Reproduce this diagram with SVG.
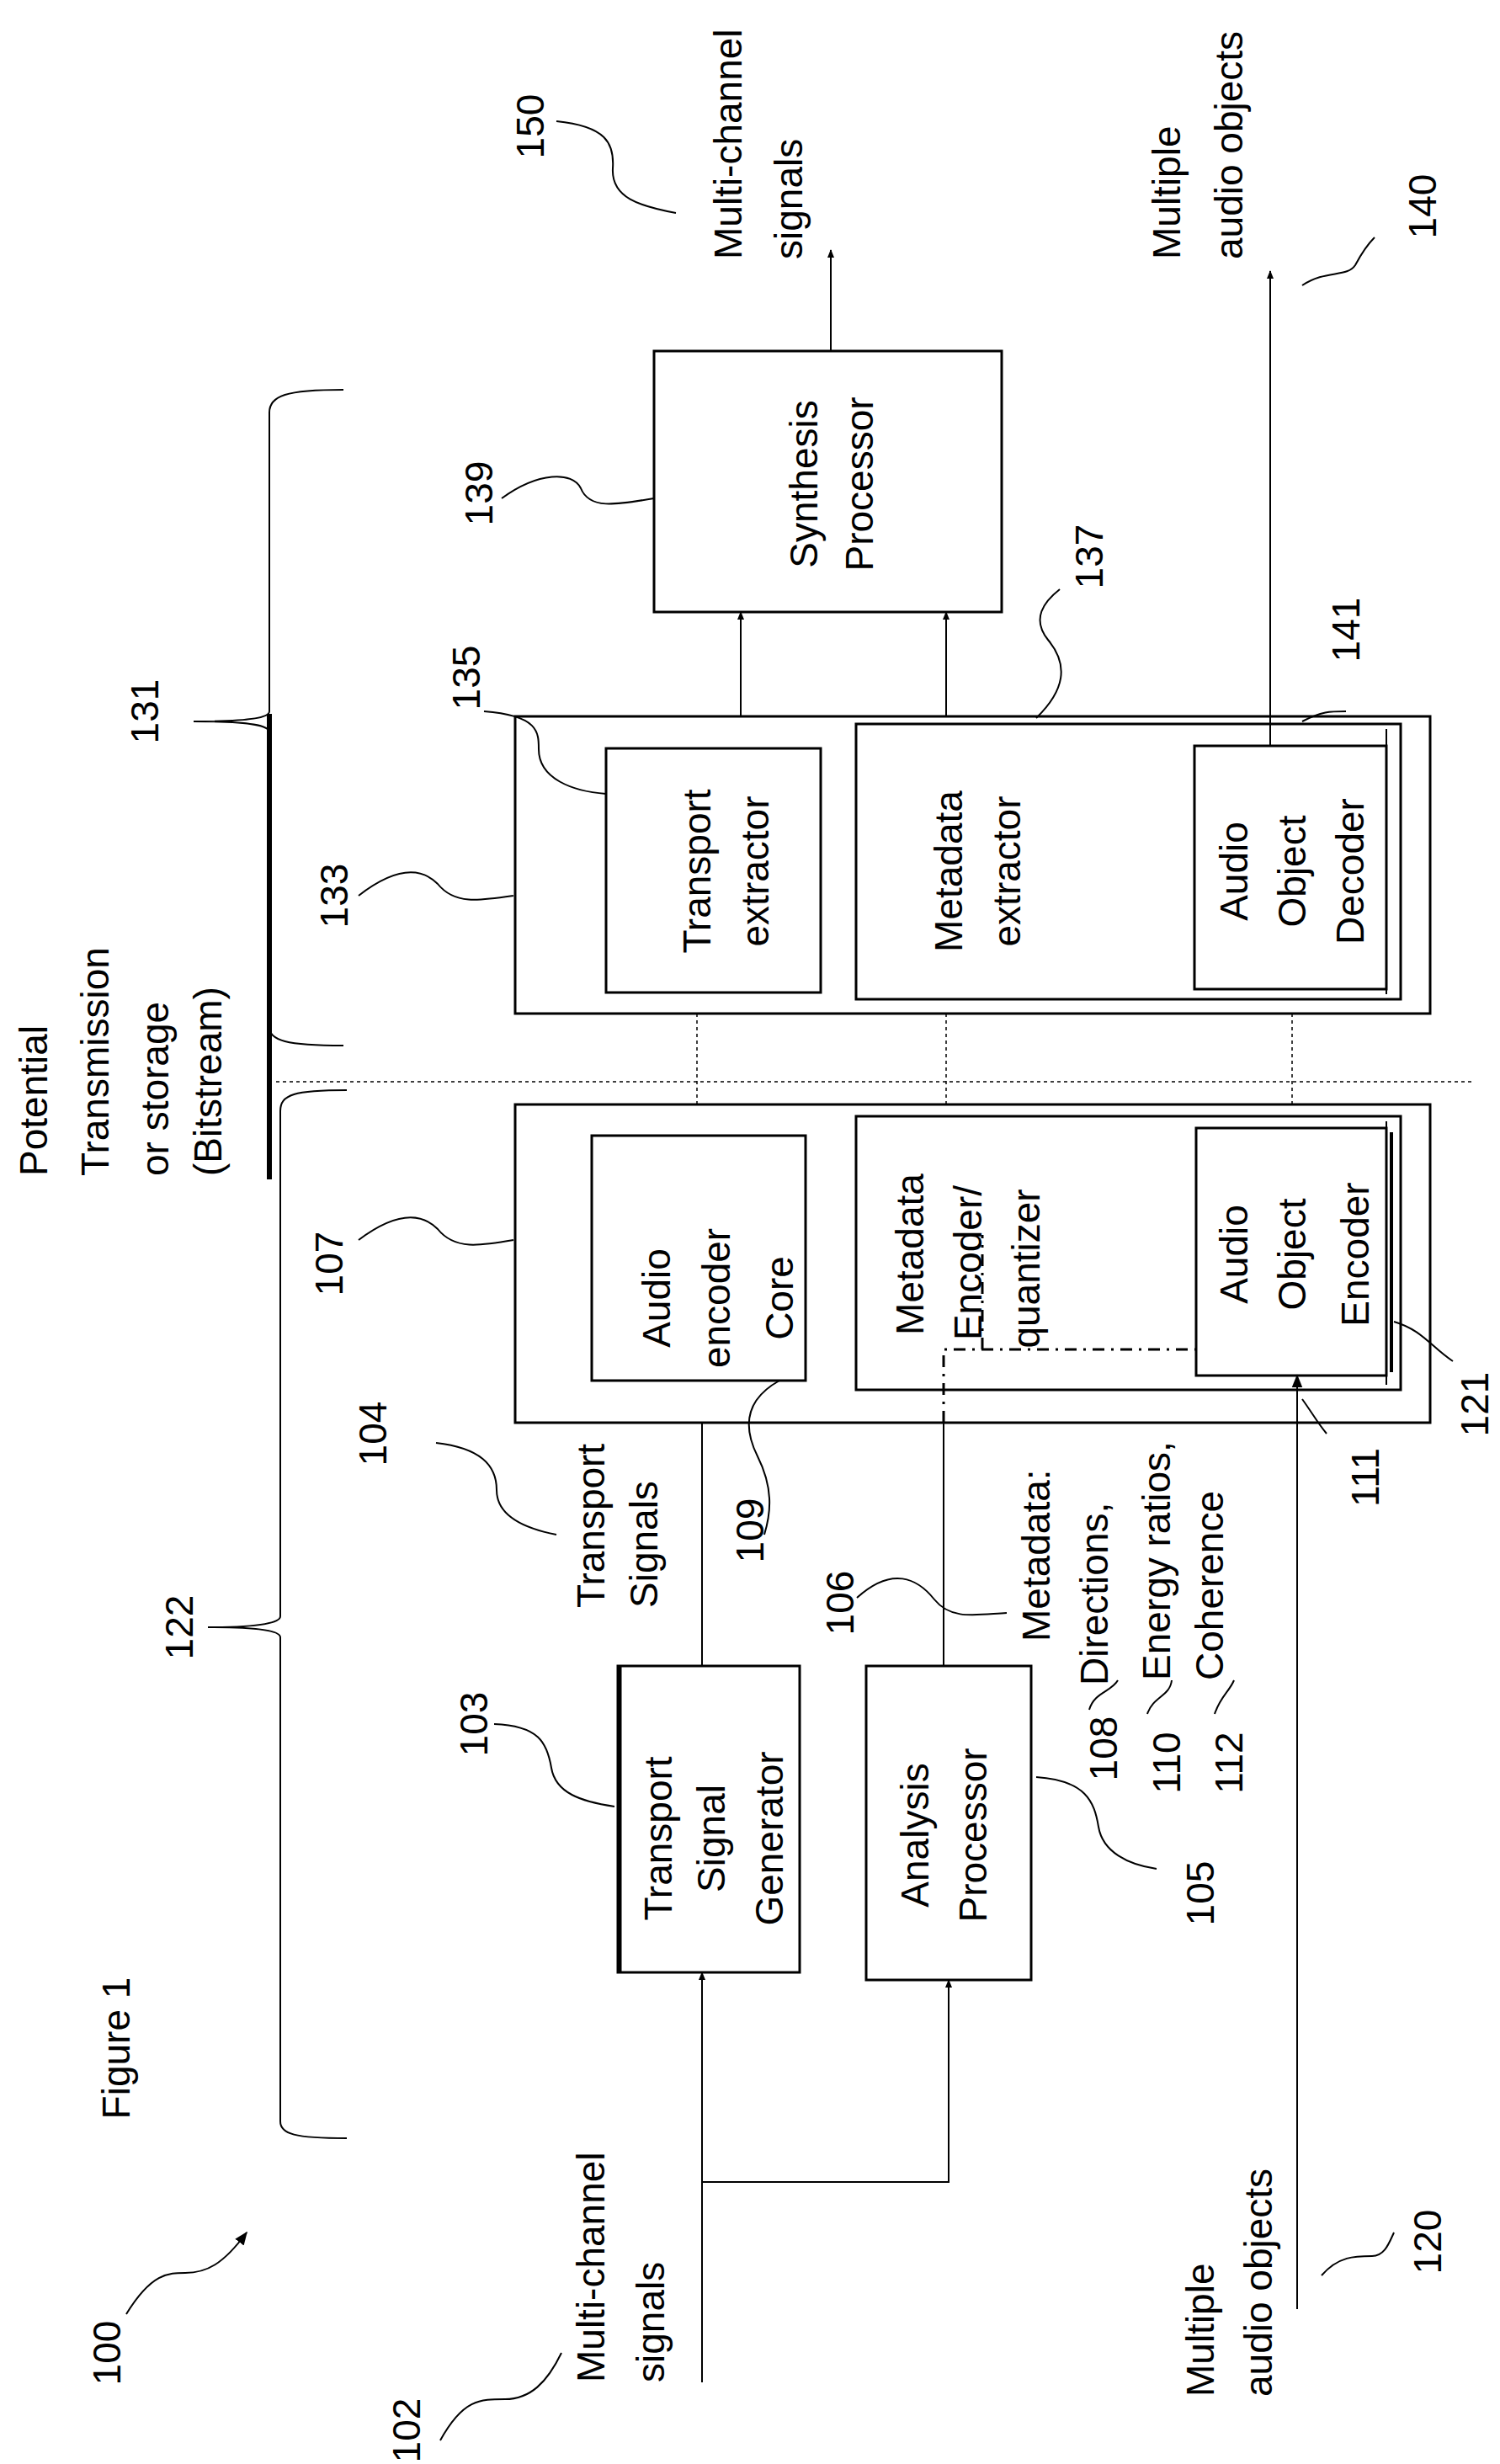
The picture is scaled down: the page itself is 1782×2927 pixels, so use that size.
<svg xmlns="http://www.w3.org/2000/svg" width="1782" height="2927" viewBox="0 0 1782 2927">
<style>
text{font-family:"Liberation Sans",Arial,sans-serif;font-size:46px;fill:#000;dominant-baseline:central}
.m{text-anchor:middle}
.box{fill:#fff;stroke:#000;stroke-width:3}
.ln{fill:none;stroke:#000;stroke-width:2}
.dot{fill:none;stroke:#000;stroke-width:1.5;stroke-dasharray:4 4}
.dd{fill:none;stroke:#000;stroke-width:3;stroke-dasharray:14 8 3 8}
</style>
<defs>
<marker id="ar" viewBox="0 0 10 10" refX="9" refY="5" markerWidth="10" markerHeight="10" markerUnits="userSpaceOnUse" orient="auto"><path d="M0,1 L10,5 L0,9 z" fill="#000"/></marker>
<marker id="ar2" viewBox="0 0 10 10" refX="9" refY="5" markerWidth="16" markerHeight="16" markerUnits="userSpaceOnUse" orient="auto"><path d="M0,1 L10,5 L0,9 z" fill="#000"/></marker>
</defs>
<g id="braces" class="ln">
<path class="ln" d="M408,463 C340,463 320,470 320,490 V845 C320,852 300,857 230,857 C300,857 320,862 320,870 V1220 C320,1236 340,1242 408,1242"/>
<line x1="320" y1="848" x2="320" y2="1401" stroke="#000" stroke-width="6"/>
<path class="ln" d="M412,1295 C350,1295 333,1300 333,1320 V1920 C333,1927 313,1933 247,1933 C313,1933 333,1938 333,1945 V2520 C333,2535 350,2540 412,2540"/>
<line class="dot" x1="328" y1="1285" x2="1748" y2="1285"/>
</g>
<g id="n139"><rect class="box" x="777" y="417" width="413" height="310"/><text class="m" transform="translate(955,575) rotate(-90)">Synthesis</text><text class="m" transform="translate(1021,575) rotate(-90)">Processor</text></g>
<g id="n133"><rect class="box" x="612" y="851" width="1087" height="353"/></g>
<g id="n135"><rect class="box" x="720" y="889" width="255" height="290"/><text class="m" transform="translate(828,1035) rotate(-90)">Transport</text><text class="m" transform="translate(897,1035) rotate(-90)">extractor</text></g>
<g id="n137"><rect class="box" x="1017" y="860" width="647" height="327"/><line class="ln" x1="1647" y1="866" x2="1647" y2="1181" stroke-width="3"/><text class="m" transform="translate(1127,1035) rotate(-90)">Metadata</text><text class="m" transform="translate(1196,1035) rotate(-90)">extractor</text></g>
<g id="n141"><rect class="box" x="1419" y="886" width="228" height="289" stroke-width="2"/><text class="m" transform="translate(1466,1035) rotate(-90)">Audio</text><text class="m" transform="translate(1535,1035) rotate(-90)">Object</text><text class="m" transform="translate(1604,1035) rotate(-90)">Decoder</text></g>
<g id="n107"><rect class="box" x="612" y="1312" width="1087" height="378"/></g>
<g id="n109"><rect class="box" x="703" y="1349" width="254" height="291"/><text class="m" transform="translate(780,1542) rotate(-90)">Audio</text><text class="m" transform="translate(851,1542) rotate(-90)">encoder</text><text class="m" transform="translate(926,1542) rotate(-90)">Core</text></g>
<g id="nMeta"><rect class="box" x="1017" y="1326" width="647" height="325"/><line class="ln" x1="1647" y1="1332" x2="1647" y2="1645" stroke-width="3"/><text class="m" transform="translate(1081,1490) rotate(-90)">Metadata</text><text class="m" transform="translate(1150,1500) rotate(-90)">Encoder/</text><text class="m" transform="translate(1219,1507) rotate(-90)">quantizer</text></g>
<g id="n121"><rect class="box" x="1421" y="1340" width="226" height="294" stroke-width="2"/><line x1="1653" y1="1345" x2="1653" y2="1630" stroke="#000" stroke-width="4"/><text class="m" transform="translate(1466,1490) rotate(-90)">Audio</text><text class="m" transform="translate(1535,1490) rotate(-90)">Object</text><text class="m" transform="translate(1610,1490) rotate(-90)">Encoder</text></g>
<g id="n103"><rect class="box" x="734" y="1979" width="216" height="364"/><line x1="736" y1="1979" x2="736" y2="2343" stroke="#000" stroke-width="5"/><text class="m" transform="translate(782,2184) rotate(-90)">Transport</text><text class="m" transform="translate(845,2184) rotate(-90)">Signal</text><text class="m" transform="translate(914,2184) rotate(-90)">Generator</text></g>
<g id="n105"><rect class="box" x="1029" y="1979" width="196" height="373"/><text class="m" transform="translate(1087,2180) rotate(-90)">Analysis</text><text class="m" transform="translate(1156,2180) rotate(-90)">Processor</text></g>
<g id="connectors">
<line class="ln" x1="987" y1="417" x2="987" y2="297" marker-end="url(#ar)"/>
<line class="ln" x1="1509" y1="886" x2="1509" y2="322" marker-end="url(#ar)"/>
<line class="ln" x1="880" y1="851" x2="880" y2="727" marker-end="url(#ar)"/>
<line class="ln" x1="1124" y1="851" x2="1124" y2="727" marker-end="url(#ar)"/>
<line class="dot" x1="828" y1="1204" x2="828" y2="1312"/>
<line class="dot" x1="1124" y1="1204" x2="1124" y2="1312"/>
<line class="dot" x1="1535" y1="1204" x2="1535" y2="1312"/>
<line class="ln" x1="834" y1="1690" x2="834" y2="1979"/>
<line class="ln" x1="1121" y1="1690" x2="1121" y2="1979"/>
<path class="dd" d="M1121,1690 V1603 H1421"/>
<path class="dd" d="M1167,1603 V1467"/>
<line class="ln" x1="834" y1="2830" x2="834" y2="2343" marker-end="url(#ar)"/>
<path class="ln" d="M834,2592 H1127 V2352" marker-end="url(#ar)"/>
<line class="ln" x1="1541" y1="2743" x2="1541" y2="1634" marker-end="url(#ar2)"/>
</g>
<g id="leaders" class="ln">
<path d="M661,144 C720,150 730,170 728,200 C726,235 760,245 803,253"/>
<path d="M1547,339 C1575,320 1600,330 1610,315 C1618,300 1625,290 1633,282"/>
<path d="M596,592 C640,560 680,560 690,580 C700,605 730,600 777,592"/>
<path d="M1231,853 C1265,820 1270,790 1245,760 C1225,735 1240,715 1259,700"/>
<path d="M575,845 C640,850 640,870 640,890 C640,925 680,940 720,943"/>
<path d="M1547,857 C1570,845 1580,845 1599,845"/>
<path d="M426,1064 C470,1030 500,1030 520,1050 C540,1075 570,1070 610,1064"/>
<path d="M426,1473 C470,1440 500,1440 520,1460 C540,1485 570,1480 610,1473"/>
<path d="M1656,1570 C1690,1580 1700,1600 1726,1617"/>
<path d="M1547,1662 C1560,1680 1565,1690 1576,1703"/>
<path d="M926,1640 C890,1660 880,1690 900,1730 C920,1770 915,1800 908,1823"/>
<path d="M518,1714 C570,1720 590,1740 590,1770 C590,1800 620,1815 661,1823"/>
<path d="M1018,1898 C1060,1860 1090,1875 1110,1900 C1130,1925 1160,1918 1196,1916"/>
<path d="M1294,2031 C1300,2010 1320,2010 1328,1996"/>
<path d="M1363,2036 C1370,2015 1390,2015 1392,1996"/>
<path d="M1443,2036 C1450,2015 1460,2010 1466,1996"/>
<path d="M587,2048 C640,2050 650,2070 655,2100 C660,2130 690,2140 730,2146"/>
<path d="M1231,2111 C1290,2115 1300,2140 1305,2170 C1310,2200 1340,2215 1374,2220"/>
<path d="M150,2749 C180,2700 200,2700 220,2700 C245,2700 265,2690 293,2652" marker-end="url(#ar2)"/>
<path d="M523,2899 C550,2850 570,2850 600,2850 C630,2850 650,2830 667,2795"/>
<path d="M1570,2703 C1590,2680 1610,2680 1630,2680 C1645,2680 1650,2665 1656,2652"/>
</g>
<g id="labels">
<text class="m" transform="translate(630,150) rotate(-90)">150</text>
<text transform="translate(865,308) rotate(-90)">Multi-channel</text>
<text transform="translate(937,308) rotate(-90)">signals</text>
<text transform="translate(1386,308) rotate(-90)">Multiple</text>
<text transform="translate(1460,308) rotate(-90)">audio objects</text>
<text class="m" transform="translate(1690,245) rotate(-90)">140</text>
<text class="m" transform="translate(569,586) rotate(-90)">139</text>
<text class="m" transform="translate(1294,661) rotate(-90)">137</text>
<text class="m" transform="translate(554,805) rotate(-90)">135</text>
<text class="m" transform="translate(1599,748) rotate(-90)">141</text>
<text class="m" transform="translate(172,845) rotate(-90)">131</text>
<text class="m" transform="translate(397,1064) rotate(-90)">133</text>
<text transform="translate(40,1397) rotate(-90)">Potential</text>
<text transform="translate(113,1397) rotate(-90)">Transmission</text>
<text transform="translate(184,1397) rotate(-90)">or storage</text>
<text transform="translate(247,1397) rotate(-90)">(Bitstream)</text>
<text class="m" transform="translate(391,1501) rotate(-90)">107</text>
<text class="m" transform="translate(1752,1668) rotate(-90)">121</text>
<text class="m" transform="translate(1622,1755) rotate(-90)">111</text>
<text class="m" transform="translate(443,1703) rotate(-90)">104</text>
<text transform="translate(702,1910) rotate(-90)">Transport</text>
<text transform="translate(765,1910) rotate(-90)">Signals</text>
<text class="m" transform="translate(891,1818) rotate(-90)">109</text>
<text class="m" transform="translate(213,1933) rotate(-90)">122</text>
<text class="m" transform="translate(998,1904) rotate(-90)">106</text>
<text transform="translate(1231,1950) rotate(-90)">Metadata:</text>
<text transform="translate(1300,2002) rotate(-90)">Directions,</text>
<text transform="translate(1374,1996) rotate(-90)">Energy ratios,</text>
<text transform="translate(1437,1996) rotate(-90)">Coherence</text>
<text class="m" transform="translate(1311,2077) rotate(-90)">108</text>
<text class="m" transform="translate(1386,2094) rotate(-90)">110</text>
<text class="m" transform="translate(1460,2094) rotate(-90)">112</text>
<text class="m" transform="translate(563,2048) rotate(-90)">103</text>
<text class="m" transform="translate(1426,2249) rotate(-90)">105</text>
<text class="m" transform="translate(138,2433) rotate(-90)">Figure 1</text>
<text class="m" transform="translate(127,2795) rotate(-90)">100</text>
<text transform="translate(702,2830) rotate(-90)">Multi-channel</text>
<text transform="translate(773,2830) rotate(-90)">signals</text>
<text class="m" transform="translate(483,2887) rotate(-90)">102</text>
<text class="m" transform="translate(1696,2663) rotate(-90)">120</text>
<text transform="translate(1426,2847) rotate(-90)">Multiple</text>
<text transform="translate(1495,2847) rotate(-90)">audio objects</text>
</g>
</svg>
